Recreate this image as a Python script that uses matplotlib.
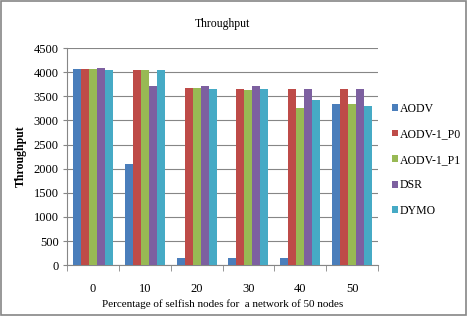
import matplotlib
matplotlib.use("Agg")
import matplotlib.pyplot as plt
import numpy as np

plt.rcParams['font.family'] = ['Liberation Serif', 'DejaVu Serif']

categories = ["0", "10", "20", "30", "40", "50"]
series_names = ["AODV", "AODV-1_P0", "AODV-1_P1", "DSR", "DYMO"]
aodv = [4060, 2100, 150, 150, 150, 3350]
aodv_p0 = [4060, 4050, 3680, 3650, 3650, 3650]
aodv_p1 = [4060, 4050, 3680, 3640, 3260, 3350]
dsr = [4080, 3720, 3720, 3720, 3650, 3650]
dymo = [4050, 4050, 3660, 3650, 3420, 3290]
series = [aodv, aodv_p0, aodv_p1, dsr, dymo]
colors = ["#4a7ebb", "#be4b48", "#98b954", "#7d60a0", "#46aac5"]
yticks = [0, 500, 1000, 1500, 2000, 2500, 3000, 3500, 4000, 4500]

fig = plt.figure(figsize=(4.67, 3.16), dpi=100)
fig.patch.set_facecolor('white')
ax = fig.add_axes([0.1435, 0.161, 0.666, 0.687])

x = np.arange(len(categories))
n = len(series)
w = 0.77 / n
for i, (vals, c, name) in enumerate(zip(series, colors, series_names)):
    ax.bar(x - 0.385 + w * (i + 0.5), vals, width=w, color=c, label=name, zorder=3, linewidth=0)

ax.set_xlim(-0.5, len(categories) - 0.5)
ax.set_ylim(0, 4500)
ax.set_yticks(yticks)
ax.set_yticklabels([str(t) for t in yticks], fontsize=9)
ax.set_xticks(x)
ax.set_xticklabels(categories, fontsize=9)
ax.set_xticks(np.arange(-0.5, len(categories), 1), minor=True)
ax.tick_params(axis='x', which='major', length=0, pad=13)
ax.tick_params(axis='x', which='minor', length=4, color='#868686', direction='out')
ax.tick_params(axis='y', length=3, color='#868686', direction='out', pad=3)
ax.yaxis.grid(True, color='#868686', linewidth=0.8, zorder=0)
for s in ['top', 'right']:
    ax.spines[s].set_visible(False)
ax.spines['left'].set_color('#868686')
ax.spines['bottom'].set_color('#868686')

ax.set_title("Throughput", fontsize=8.5, pad=15)
ax.set_ylabel("Throughput", fontsize=8.5, fontweight='bold', labelpad=5)
ax.set_xlabel("Percentage of selfish nodes for  a network of 50 nodes", fontsize=8, labelpad=3)

leg = ax.legend(loc='center left', bbox_to_anchor=(1.01, 0.485), frameon=False,
                fontsize=8.5, handlelength=0.5, handleheight=0.5, handletextpad=0.2,
                labelspacing=1.15)

border = plt.Rectangle((0.003, 0.004), 0.994, 0.992, transform=fig.transFigure,
                       fill=False, edgecolor='#868686', linewidth=1.2)
fig.patches.append(border)

fig.savefig("out.png", dpi=100)
